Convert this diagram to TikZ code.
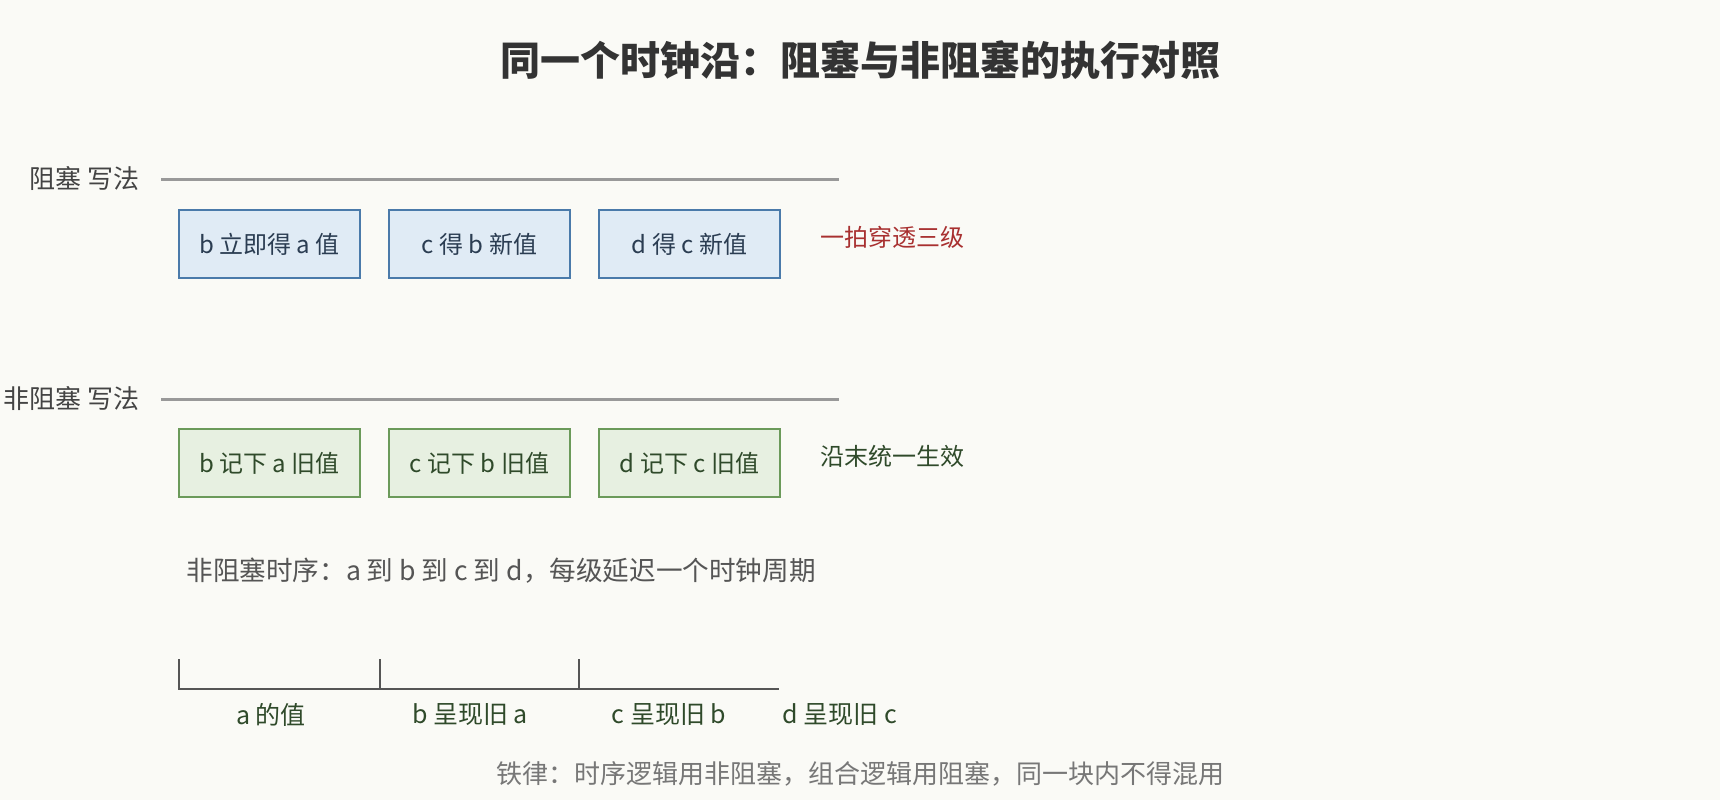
\documentclass[tikz,border=0pt]{standalone}
\usepackage{fontspec}
\setmainfont{Noto Sans CJK SC}
\definecolor{bg}{HTML}{FAFAF6}
\definecolor{bluefill}{HTML}{E0EBF5}
\definecolor{blueedge}{HTML}{4A7AAA}
\definecolor{bluetext}{HTML}{2B3D52}
\definecolor{greenfill}{HTML}{E7F0E1}
\definecolor{greenedge}{HTML}{6B9A5A}
\definecolor{greentext}{HTML}{2F4A2A}
\definecolor{notered}{HTML}{A83030}
\definecolor{rulegray}{HTML}{999999}
\definecolor{tlgray}{HTML}{555555}
\definecolor{labelgray}{HTML}{444444}
\definecolor{footgray}{HTML}{777777}
\definecolor{titlegray}{HTML}{333333}
\begin{document}
\begin{tikzpicture}[x=0.5pt,y=-0.5pt,
  txt/.style={font=\fontsize{12}{14}\selectfont, inner sep=0pt},
  bbox/.style={txt, draw=blueedge, fill=bluefill, line width=1.3pt, minimum width=90.5pt, minimum height=34pt, text=bluetext},
  gbox/.style={txt, draw=greenedge, fill=greenfill, line width=1.3pt, minimum width=90.5pt, minimum height=34pt, text=greentext},
  seclabel/.style={txt, font=\fontsize{13}{15}\selectfont, anchor=east, text=labelgray},
  secrule/.style={draw=rulegray, line width=1.5pt},
  tl/.style={draw=tlgray, line width=1.2pt},
  tllabel/.style={txt, font=\fontsize{12.5}{15}\selectfont, text=greentext}]
\fill[bg] (0,0) rectangle (1720,800);
\useasboundingbox (0,0) rectangle (1720,800);
\node[font=\fontsize{20}{24}\selectfont\bfseries, text=titlegray] (title) at (860,60) {同一个时钟沿：阻塞与非阻塞的执行对照};
% blocking
\node[seclabel] (lab1) at (140,179) {阻塞 写法};
\coordinate (r1a) at (161,179);
\coordinate (r1b) at (839,179);
\draw[secrule] (r1a) -- (r1b);
\node[bbox] (b1) at (269.5,244) {b 立即得 a 值};
\node[bbox] (b2) at (479.5,244) {c 得 b 新值};
\node[bbox] (b3) at (689.5,244) {d 得 c 新值};
\node[txt, anchor=west, text=notered] (n1) at (820,237) {一拍穿透三级};
% nonblocking
\node[seclabel] (lab2) at (140,399) {非阻塞 写法};
\coordinate (r2a) at (161,399);
\coordinate (r2b) at (839,399);
\draw[secrule] (r2a) -- (r2b);
\node[gbox] (g1) at (269.5,463) {b 记下 a 旧值};
\node[gbox] (g2) at (479.5,463) {c 记下 b 旧值};
\node[gbox] (g3) at (689.5,463) {d 记下 c 旧值};
\node[txt, anchor=west, text=greentext] (n2) at (820,456) {沿末统一生效};
% timing
\node[txt, font=\fontsize{13.3}{15}\selectfont, anchor=west, text=tlgray] (timing) at (186,571) {非阻塞时序：a 到 b 到 c 到 d，每级延迟一个时钟周期};
\coordinate (t0) at (179,689);
\coordinate (t0u) at (179,659);
\coordinate (t1) at (380,689);
\coordinate (t1u) at (380,659);
\coordinate (t2) at (579,689);
\coordinate (t2u) at (579,659);
\coordinate (tend) at (779,689);
\draw[tl] (t0u) -- (t0) -- (tend);
\draw[tl] (t1u) -- (t1);
\draw[tl] (t2u) -- (t2);
\node[tllabel] (l1) at (271,715) {a 的值};
\node[tllabel] (l2) at (470,715) {b 呈现旧 a};
\node[tllabel] (l3) at (669,715) {c 呈现旧 b};
\node[tllabel] (l4) at (840,715) {d 呈现旧 c};
\node[txt, font=\fontsize{13}{15}\selectfont, text=footgray] (foot) at (860,774) {铁律：时序逻辑用非阻塞，组合逻辑用阻塞，同一块内不得混用};
\end{tikzpicture}
\end{document}
